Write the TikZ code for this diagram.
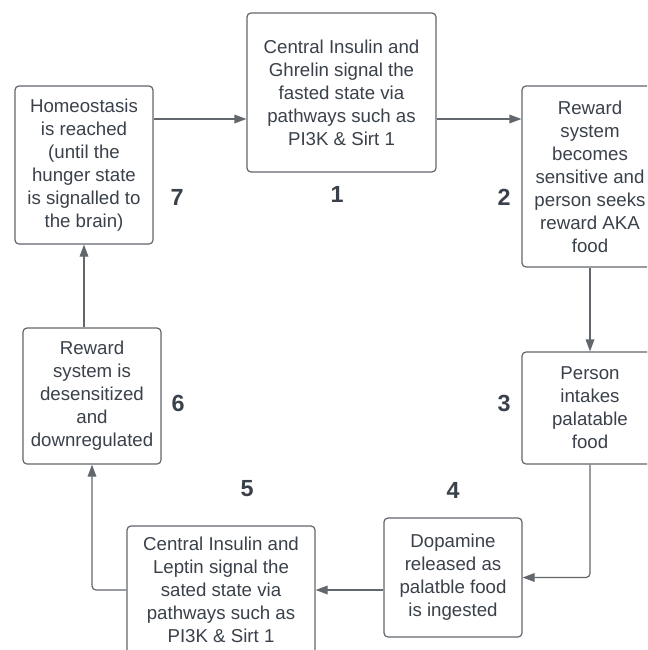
\documentclass[tikz,border=0pt]{standalone}
\usepackage{fontspec}
\setmainfont{Liberation Sans}
\usetikzlibrary{arrows.meta,calc}
\definecolor{txt}{HTML}{3A414A}
\definecolor{ln}{HTML}{62676E}
\begin{document}
\begin{tikzpicture}[x=0.75pt,y=-0.75pt,
  box/.style={draw=ln,line width=0.9pt,rounded corners=3pt,fill=white,text=txt,
    align=center,inner sep=0pt,font=\fontsize{14}{17.25}\selectfont},
  arr/.style={draw=ln,line width=0.9pt,rounded corners=3pt,-{Triangle[length=9pt,width=6.5pt]}},
  num/.style={text=txt,font=\fontsize{17.5}{20}\selectfont\bfseries,inner sep=0pt}]
\useasboundingbox (0,0) rectangle (647,650);
\clip (0,0) rectangle (647,650);
\fill[white] (0,0) rectangle (647,650);
\node[box,minimum width=138*0.75pt,minimum height=158*0.75pt] (b7) at (84,165)
  {Homeostasis\\is reached\\(until the\\hunger state\\is signalled to\\the brain)};
\node[box,minimum width=189*0.75pt,minimum height=159*0.75pt] (b1) at (341.5,92.5)
  {Central Insulin and\\Ghrelin signal the\\fasted state via\\pathways such as\\PI3K \& Sirt 1};
\node[box,minimum width=136*0.75pt,minimum height=181*0.75pt] (b2) at (590,176.5)
  {Reward\\system\\becomes\\sensitive and\\person seeks\\reward AKA\\food};
\node[box,minimum width=136*0.75pt,minimum height=112*0.75pt] (b3) at (590,408)
  {Person\\intakes\\palatable\\food};
\node[box,minimum width=138*0.75pt,minimum height=119*0.75pt] (b4) at (453,577.5)
  {Dopamine\\released as\\palatble food\\is ingested};
\node[box,minimum width=188*0.75pt,minimum height=128*0.75pt] (b5) at (221,590)
  {Central Insulin and\\Leptin signal the\\sated state via\\pathways such as\\PI3K \& Sirt 1};
\node[box,minimum width=138*0.75pt,minimum height=136*0.75pt] (b6) at (92,396)
  {Reward\\system is\\desensitized\\and\\downregulated};
\node[num] (n7) at (177,197) {7};
\node[num] (n1) at (337,194) {1};
\node[num] (n2) at (504,197) {2};
\node[num] (n3) at (504,403) {3};
\node[num] (n4) at (453,490) {4};
\node[num] (n5) at (247,489) {5};
\node[num] (n6) at (178,403) {6};
\coordinate (c71) at (200,119);
\coordinate (c45) at (300,590);
\draw[arr] (b7.east |- c71) -- (b1.west |- c71);
\draw[arr] (b1.east |- c71) -- (b2.west |- c71);
\draw[arr] (b2.south) -- (b3.north);
\draw[arr] (b3.south) |- (b4.east);
\draw[arr] (b4.west |- c45) -- (b5.east |- c45);
\draw[arr] (b5.west |- c45) -| (b6.south);
\draw[arr] (b6.north -| b7.south) -- (b7.south);
\end{tikzpicture}
\end{document}
